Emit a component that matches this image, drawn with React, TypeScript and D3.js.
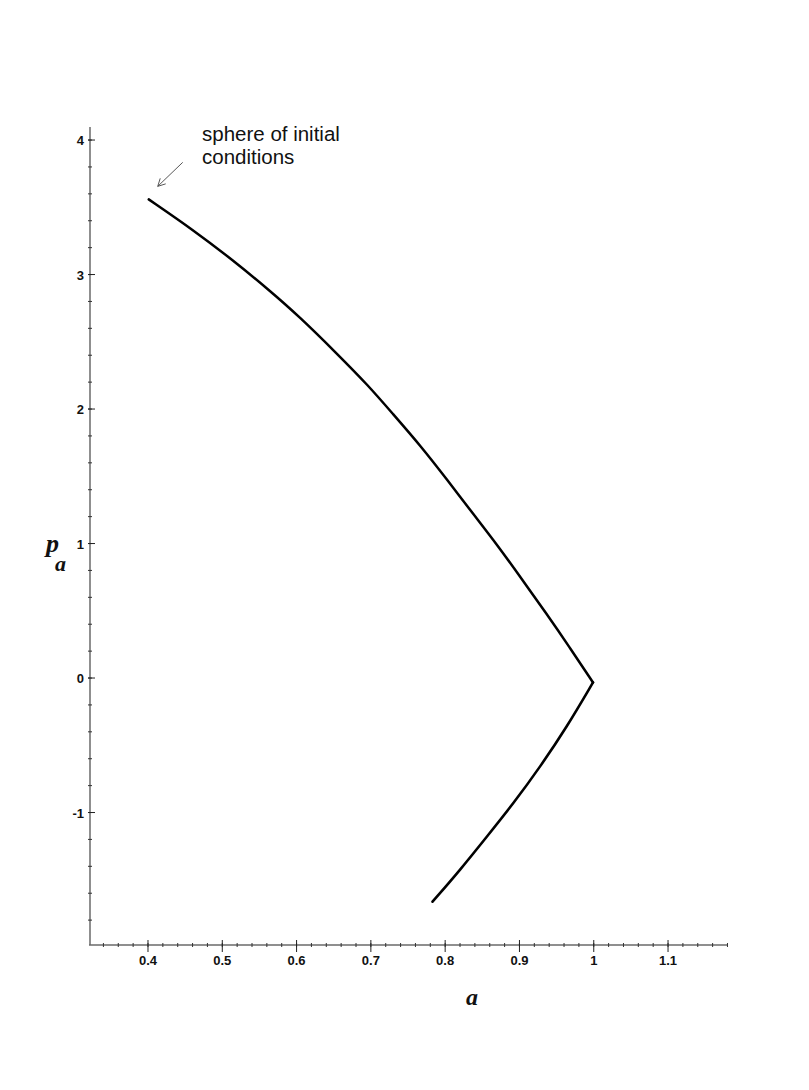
import React from "react";
import * as d3 from "d3";

// curve: a (horizontal) and p_a (vertical)
const aValues = [0.401, 0.461, 0.514, 0.563, 0.604, 0.654, 0.696, 0.729, 0.768, 0.803, 0.837, 0.872, 0.904, 0.936, 0.967, 0.999, 0.964, 0.928, 0.892, 0.856, 0.820, 0.783];
const pValues = [3.559, 3.331, 3.108, 2.885, 2.686, 2.414, 2.178, 1.968, 1.720, 1.472, 1.225, 0.976, 0.729, 0.481, 0.233, -0.033, -0.362, -0.659, -0.932, -1.180, -1.428, -1.663];
// index of the turning point (a ~ 1)
const turnIndex = 15;

const xTickLabels = ["0.4", "0.5", "0.6", "0.7", "0.8", "0.9", "1", "1.1"];
const yTickLabels = ["-1", "0", "1", "2", "3", "4"];
const annotationLines = ["sphere of initial", "conditions"];

const width = 809;
const height = 1090;

export default function App() {
  // pixel ranges
  const x = d3.scaleLinear().domain([0.3206, 1.1807]).range([89, 728]);
  const y = d3.scaleLinear().domain([-1.985, 4.097]).range([945, 127]);

  const x0 = x.range()[0];
  const y0 = y.range()[0];

  const xMinor = d3.range(0.34, 1.181, 0.02);
  const yMinor = d3.range(-1.8, 4.01, 0.2);

  const points = aValues.map((a, i) => [a, pValues[i]] as [number, number]);
  const upper = points.slice(0, turnIndex + 1);
  const lower = points.slice(turnIndex);
  // b-spline smooths the small reading errors, ends stay pinned
  const line = d3.line<[number, number]>()
    .x(d => x(d[0]))
    .y(d => y(d[1]))
    .curve(d3.curveBasis);

  const axisColor = "#6a6a6a";
  const start = points[0];
  const tickFont = "Liberation Sans, Arial, sans-serif";
  const titleFont = "Liberation Serif, Times New Roman, serif";

  return (
    <svg width={width} height={height}
      style={{ position: "absolute", left: 0, top: 0, background: "#fff" }}>
      {/* x axis */}
      <line x1={x0} x2={x.range()[1]} y1={y0} y2={y0} stroke={axisColor} strokeWidth={1.5} />
      {xMinor.map((v, i) => (
        <line key={"xm" + i} x1={x(v)} x2={x(v)} y1={y0 - 2} y2={y0 + 2} stroke="#333" strokeWidth={1} />
      ))}
      {xTickLabels.map(t => (
        <g key={"xt" + t}>
          <line x1={x(+t)} x2={x(+t)} y1={y0 - 5} y2={y0 + 7} stroke="#222" strokeWidth={1} />
          <text x={x(+t)} y={965} textAnchor="middle" fontFamily={tickFont}
            fontWeight="bold" fontSize={13} fill="#111">{t}</text>
        </g>
      ))}

      {/* y axis */}
      <line x1={x0 + 1} x2={x0 + 1} y1={y0} y2={y.range()[1]} stroke={axisColor} strokeWidth={1.5} />
      {yMinor.map((v, i) => (
        <line key={"ym" + i} x1={x0 - 1} x2={x0 + 3} y1={y(v)} y2={y(v)} stroke="#333" strokeWidth={1} />
      ))}
      {yTickLabels.map(t => (
        <g key={"yt" + t}>
          <line x1={x0 - 1} x2={x0 + 6} y1={y(+t)} y2={y(+t)} stroke="#222" strokeWidth={1} />
          <text x={84} y={y(+t) + 5} textAnchor="end" fontFamily={tickFont}
            fontWeight="bold" fontSize={13} fill="#111">{t}</text>
        </g>
      ))}

      {/* axis titles */}
      <text x={472} y={1005} textAnchor="middle" fontFamily={titleFont}
        fontStyle="italic" fontWeight="bold" fontSize={24} fill="#111">a</text>
      <text x={46} y={552} fontFamily={titleFont}
        fontStyle="italic" fontWeight="bold" fontSize={26} fill="#111">p</text>
      <text x={55} y={571} fontFamily={titleFont}
        fontStyle="italic" fontWeight="bold" fontSize={22} fill="#111">a</text>

      {/* curve: two branches meeting at the turning point */}
      <path d={line(upper) || ""} fill="none" stroke="#000" strokeWidth={2.5} strokeLinecap="round" />
      <path d={line(lower) || ""} fill="none" stroke="#000" strokeWidth={2.6} strokeLinecap="round" />

      {/* annotation */}
      <line x1={x(start[0]) + 34} y1={y(start[1]) - 37} x2={x(start[0]) + 9} y2={y(start[1]) - 13}
        stroke="#444" strokeWidth={0.9} />
      <path d={`M${x(start[0]) + 9},${y(start[1]) - 13} l8,-2.5 M${x(start[0]) + 9},${y(start[1]) - 13} l2.5,-8`}
        fill="none" stroke="#444" strokeWidth={0.9} />
      {annotationLines.map((s, i) => (
        <text key={s} x={202} y={141 + i * 22.5} fontFamily={tickFont}
          fontSize={20.5} fill="#111">{s}</text>
      ))}
    </svg>
  );
}
